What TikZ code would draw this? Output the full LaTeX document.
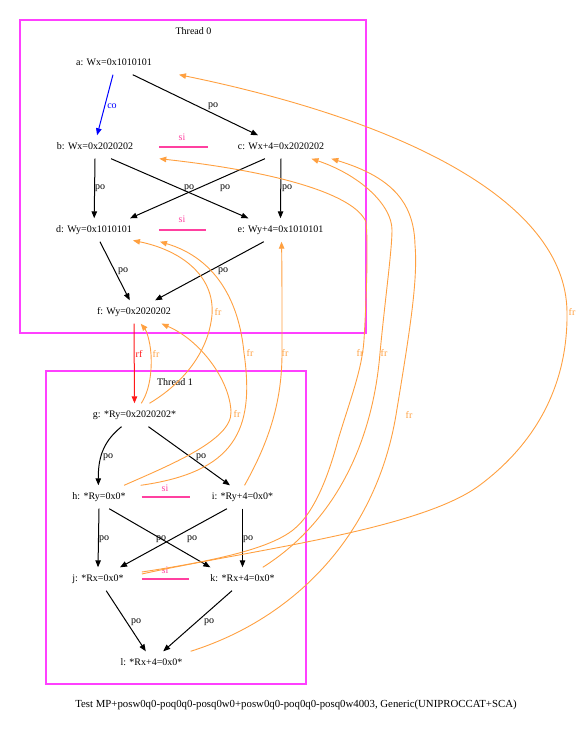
\documentclass[tikz,border=0pt]{standalone}
\usepackage{fontspec}
\setmainfont{Liberation Serif}
\usetikzlibrary{arrows.meta}
\definecolor{thrcol}{RGB}{255,64,255}
\definecolor{sicol}{RGB}{255,64,160}
\definecolor{frcol}{RGB}{255,160,64}
\definecolor{rfcol}{RGB}{255,25,25}
\tikzset{
  ev/.style={inner xsep=1pt, inner ysep=7pt, text height=7pt, text depth=2pt},
  lbl/.style={inner sep=0pt},
  tip/.style={-{Triangle[length=7pt,width=5.5pt]}},
  po/.style={tip, line width=1pt},
  co/.style={tip, line width=1pt, color=blue},
  rf/.style={tip, line width=1pt, color=rfcol},
  fr/.style={tip, line width=0.9pt, color=frcol},
  si/.style={line width=1.2pt, color=sicol},
  thr/.style={line width=1.8pt, draw=thrcol}
}
\begin{document}
\begin{tikzpicture}[x=1pt,y=-1pt,font=\fontsize{10}{12}\selectfont]
    \useasboundingbox (0,0) rectangle (586,729);
    \draw [thr] (20,20) rectangle (366,333);
    \draw [thr] (46,371) rectangle (306,684);
    \node [lbl] (t0) at (193.5,31) {Thread 0};
    \node [lbl] (t1) at (175,382) {Thread 1};
    \node [ev] (a) at (114,63) {a: Wx=0x1010101};
    \node [ev] (b) at (95,147) {b: Wx=0x2020202};
    \node [ev] (c) at (281,147) {c: Wx+4=0x2020202};
    \node [ev] (d) at (94,230) {d: Wy=0x1010101};
    \node [ev] (e) at (280.5,230) {e: Wy+4=0x1010101};
    \node [ev] (f) at (134,312) {f: Wy=0x2020202};
    \node [ev] (g) at (134.5,415) {g: *Ry=0x2020202*};
    \node [ev] (h) at (99,497) {h: *Ry=0x0*};
    \node [ev] (i) at (242.5,497) {i: *Ry+4=0x0*};
    \node [ev] (j) at (98,579) {j: *Rx=0x0*};
    \node [ev] (k) at (242.5,579) {k: *Rx+4=0x0*};
    \node [ev] (l) at (151.5,663) {l: *Rx+4=0x0*};
    \node [lbl, font=\fontsize{10.8}{13}\selectfont] (cap) at (296,705) {Test MP+posw0q0-poq0q0-posq0w0+posw0q0-poq0q0-posq0w4003, Generic(UNIPROCCAT+SCA)};
    % thread 0
    \draw [co] (a.-95) -- (b.80) node [lbl] at (112,106) {co};
    \draw [po] (a.-32) -- (c.153) node [lbl] at (213,106) {po};
    \draw [po] (b.-90) -- (d.89) node [lbl] at (100,188) {po};
    \draw [po] (b.-36) -- (e.160) node [lbl] at (189,188) {po};
    \draw [po] (c.-144) -- (d.18) node [lbl] at (225,188) {po};
    \draw [po] (c.-90) -- (e.90) node [lbl] at (287,188) {po};
    \draw [po] (d.-63) -- (f.110) node [lbl] at (123,271) {po};
    \draw [po] (e.-145) -- (f.29) node [lbl] at (223,271) {po};
    \draw [si] ([xshift=25pt]b.east) -- ([xshift=-29pt]c.west) node [lbl] at (182,137) {si};
    \draw [si] ([xshift=26pt]d.east) -- ([xshift=-30pt]e.west) node [lbl] at (182,219) {si};
    \draw [rf] (f.-90) -- (g.90) node [lbl] at (139,354) {rf};
    % thread 1
    \draw [po] (g.-138) .. controls (105,440) and (98,455) .. (h.93) node [lbl] at (108,457) {po};
    \draw [po] (g.-40) -- (i.137) node [lbl] at (201,457) {po};
    \draw [po] (h.-90) -- (j.90) node [lbl] at (104,539) {po};
    \draw [po] (h.-49) -- (k.160) node [lbl] at (161,539) {po};
    \draw [po] (i.-143) -- (j.28) node [lbl] at (192,539) {po};
    \draw [po] (i.-90) -- (k.90) node [lbl] at (248,539) {po};
    \draw [po] (j.-55) -- (l.116) node [lbl] at (136,622) {po};
    \draw [po] (k.-132) -- (l.45) node [lbl] at (209,622) {po};
    \draw [si] ([xshift=15pt]h.east) -- ([xshift=-21pt]i.west) node [lbl] at (165,488) {si};
    \draw [si] ([xshift=17pt]j.east) -- ([xshift=-20pt]k.west) node [lbl] at (165,570) {si};
    % fr
    \draw [fr] (g.60) .. controls (150,390) and (152,370) .. (151,354) .. controls (150,340) and (146,330) .. (f.-60) node [lbl] at (156,354) {fr};
    \draw [fr] (g.38) .. controls (180,385) and (208,355) .. (212,315) .. controls (215,275) and (180,250) .. (d.-15) node [lbl] at (218,312) {fr};
    \draw [fr] (h.25) .. controls (170,465) and (232,440) .. (231,412) .. controls (230,380) and (200,340) .. (f.-23) node [lbl] at (237,414) {fr};
    \draw [fr] ([xshift=14pt]h.north east) .. controls (235,472) and (255,430) .. (244,353) .. controls (239,300) and (215,258) .. ([xshift=27pt]d.south east) node [lbl] at (250,353) {fr};
    \draw [fr] (i.80) .. controls (270,440) and (282,400) .. (282,353) .. controls (282,300) and (282,270) .. (e.-85) node [lbl] at (285,353) {fr};
    \draw [fr] ([xshift=17pt,yshift=7pt]j.east) .. controls (220,560) and (270,548) .. (293,530) .. controls (316,512) and (330,470) .. (338,440) .. controls (350,400) and (362,370) .. (364,340) .. controls (367,290) and (368,240) .. (366,222) .. controls (355,195) and (280,172) .. ([xshift=25pt]b.south east) node [lbl] at (360,353) {fr};
    \draw [fr] ([xshift=17pt,yshift=5pt]j.east) .. controls (250,550) and (420,530) .. (480,485) .. controls (540,440) and (568,380) .. (567,312) .. controls (566,200) and (400,120) .. ([xshift=26pt]a.south east) node [lbl] at (572,312) {fr};
    \draw [fr] (k.30) .. controls (330,525) and (372,450) .. (380,353) .. controls (385,300) and (392,250) .. (392,230) .. controls (392,205) and (360,175) .. (c.-21) node [lbl] at (384,353) {fr};
    \draw [fr] ([xshift=7pt]l.north east) .. controls (290,620) and (375,540) .. (396,415) .. controls (410,330) and (418,280) .. (415,245) .. controls (414,205) and (395,178) .. ([xshift=6pt]c.south east) node [lbl] at (409,415) {fr};
\end{tikzpicture}
\end{document}
